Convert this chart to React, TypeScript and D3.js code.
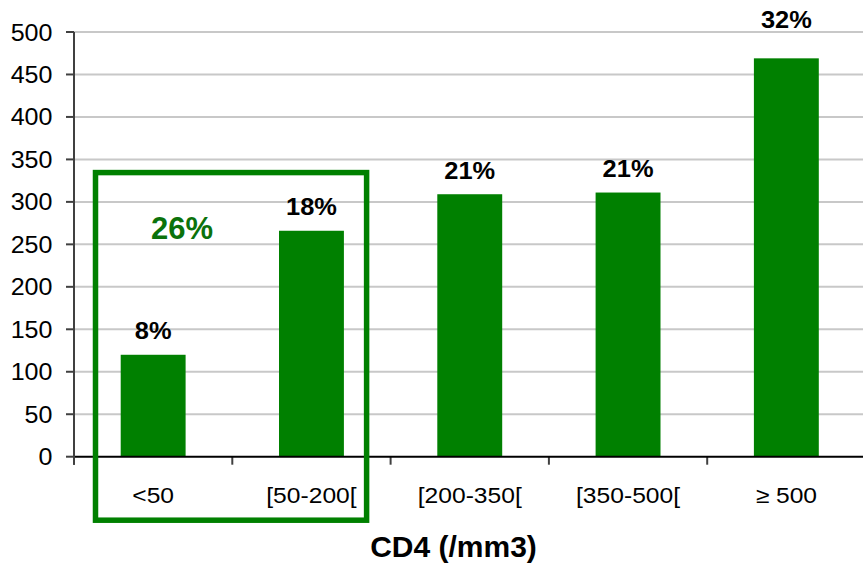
import React from "react";
import * as d3 from "d3";

const categories = ["<50", "[50-200[", "[200-350[", "[350-500[", "\u2265 500"];
const counts = [120, 266, 309, 311, 469];
const percentLabels = ["8%", "18%", "21%", "21%", "32%"];
const yTicks = [0, 50, 100, 150, 200, 250, 300, 350, 400, 450, 500];
const groupLabel = "26%";
const xTitle = "CD4 (/mm3)";

const W = 863;
const H = 564;
const margin = { left: 74, right: -2.5, top: 32, bottom: 107.3 };
const GREEN = "#008000";
const FONT = "'Liberation Sans', Arial, sans-serif";

function T(props: {
  x: number;
  y: number;
  sx?: number;
  anchor?: "start" | "middle" | "end";
  size: number;
  bold?: boolean;
  fill?: string;
  children: React.ReactNode;
}) {
  const sx = props.sx ?? 1;
  return (
    <text
      transform={`translate(${props.x},${props.y}) scale(${sx},1)`}
      textAnchor={props.anchor ?? "middle"}
      fontSize={props.size}
      fontWeight={props.bold ? "bold" : "normal"}
      fill={props.fill ?? "#000"}
    >
      {props.children}
    </text>
  );
}

export default function App() {
  const x = d3
    .scaleBand<string>()
    .domain(categories)
    .range([margin.left, W - margin.right])
    .paddingInner(0.59)
    .paddingOuter(0.295);
  const y = d3
    .scaleLinear()
    .domain([0, 500])
    .range([H - margin.bottom, margin.top]);
  const step = x.step();
  const bandStart = (c: string) => margin.left + categories.indexOf(c) * step;
  const y0 = y(0);

  const boxX1 = bandStart(categories[0]) + 21.5;
  const boxX2 = bandStart(categories[1]) + step - 24;
  const boxY1 = y(334.5);
  const boxY2 = y0 + 63.5;

  return (
    <svg
      width={W}
      height={H}
      style={{ position: "absolute", left: 0, top: 0, background: "#fff" }}
      fontFamily={FONT}
    >
      {yTicks.map((t) => (
        <g key={t}>
          {t > 0 && (
            <line x1={margin.left} x2={W} y1={y(t)} y2={y(t)} stroke="#c8c8c8" strokeWidth={2} />
          )}
          <line x1={margin.left - 8} x2={margin.left} y1={y(t)} y2={y(t)} stroke="#404040" strokeWidth={2} />
          <T x={52.5} y={y(t) + 8.5} anchor="end" size={23} sx={1.09}>
            {t}
          </T>
        </g>
      ))}
      {categories.map((c, i) => {
        const bx = x(c)!;
        const bw = x.bandwidth();
        const top = y(counts[i]);
        const labelOffset = i === categories.length - 1 ? 30 : 15.7;
        return (
          <g key={c}>
            <rect x={bx} y={top} width={bw} height={y0 - top} fill={GREEN} />
            <T x={bx + bw / 2} y={top - labelOffset} size={24} bold sx={1.06}>
              {percentLabels[i]}
            </T>
            <T x={bx + bw / 2} y={y0 + 46.5} size={22} sx={1.12}>
              {c}
            </T>
          </g>
        );
      })}
      {d3.range(categories.length + 1).map((i) => (
        <line
          key={"t" + i}
          x1={margin.left + i * step}
          x2={margin.left + i * step}
          y1={y0}
          y2={y0 + 8}
          stroke="#404040"
          strokeWidth={2}
        />
      ))}
      <line x1={margin.left} x2={W} y1={y0} y2={y0} stroke="#000" strokeWidth={2} />
      <line x1={margin.left} x2={margin.left} y1={y(500)} y2={y0 + 8} stroke="#404040" strokeWidth={2} />
      <rect
        x={boxX1}
        y={boxY1}
        width={boxX2 - boxX1}
        height={boxY2 - boxY1}
        fill="none"
        stroke={GREEN}
        strokeWidth={5.5}
      />
      <T x={182} y={239} size={31} bold fill="#0b720b">
        {groupLabel}
      </T>
      <T x={453.5} y={556.5} size={30} bold>
        {xTitle}
      </T>
    </svg>
  );
}
